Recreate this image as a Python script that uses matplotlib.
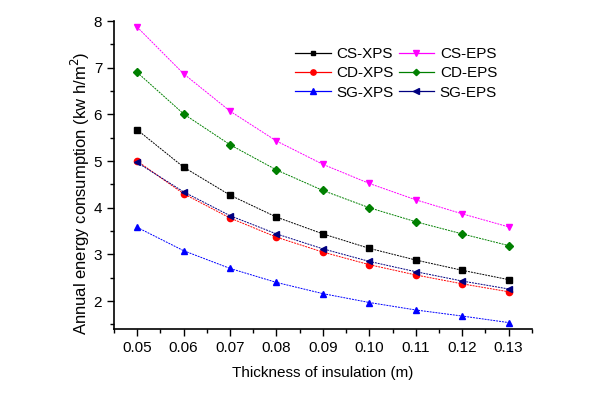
import numpy as np
import matplotlib.pyplot as plt
from matplotlib.ticker import MultipleLocator
from matplotlib.lines import Line2D

plt.rcParams['font.family'] = ['Liberation Sans', 'DejaVu Sans']

thickness = [0.05, 0.06, 0.07, 0.08, 0.09, 0.10, 0.11, 0.12, 0.13]
tick_labels = ['0.05', '0.06', '0.07', '0.08', '0.09', '0.10', '0.11', '0.12', '0.13']

cs_xps = [5.67, 4.87, 4.27, 3.80, 3.44, 3.13, 2.88, 2.66, 2.46]
cs_eps = [7.87, 6.87, 6.07, 5.43, 4.93, 4.52, 4.17, 3.87, 3.59]
cd_xps = [5.00, 4.30, 3.78, 3.37, 3.05, 2.78, 2.56, 2.37, 2.20]
cd_eps = [6.90, 6.01, 5.35, 4.81, 4.37, 4.00, 3.70, 3.44, 3.19]
sg_xps = [3.58, 3.08, 2.70, 2.40, 2.16, 1.97, 1.81, 1.68, 1.54]
sg_eps = [4.97, 4.34, 3.83, 3.44, 3.12, 2.85, 2.63, 2.43, 2.26]

fig = plt.figure(figsize=(6.03, 3.97), dpi=100)
ax = fig.add_axes([0.189, 0.171, 0.693, 0.776])

# order: XPS column first, then EPS column (legend fills column-wise)
series = [
    ('CS-XPS', cs_xps, 'black', 's', 4),
    ('CD-XPS', cd_xps, 'red', 'o', 4.5),
    ('SG-XPS', sg_xps, 'blue', '^', 5),
    ('CS-EPS', cs_eps, '#ff00ff', 'v', 5),
    ('CD-EPS', cd_eps, 'green', 'D', 3.8),
    ('SG-EPS', sg_eps, 'navy', '<', 5),
]
handles = []
for name, vals, col, mk, ms in series:
    ax.plot(thickness, vals, color=col, marker=mk, markersize=ms,
            linestyle=(0, (2, 1)), linewidth=0.7)
    handles.append(Line2D([], [], color=col, marker=mk, markersize=ms * 0.85,
                          linestyle='-', linewidth=0.9, label=name))

ax.set_xlim(0.045, 0.135)
ax.set_ylim(1.4, 8)
ax.set_xticks(thickness)
ax.set_xticklabels(tick_labels)
ax.xaxis.set_minor_locator(MultipleLocator(0.005))
ax.yaxis.set_major_locator(MultipleLocator(1))
ax.yaxis.set_minor_locator(MultipleLocator(0.5))
ax.tick_params(which='major', direction='out', length=5, width=1, labelsize=11)
ax.tick_params(which='minor', direction='out', length=3, width=1)
for s in ['top', 'right']:
    ax.spines[s].set_visible(False)
for s in ['left', 'bottom']:
    ax.spines[s].set_linewidth(1.2)

ax.set_xlabel('Thickness of insulation (m)', fontsize=11, va='center')
ax.set_ylabel('Annual energy consumption (kw h/m$^2$)', fontsize=12, va='center')
ax.xaxis.set_label_coords(0.499, -0.143)
ax.yaxis.set_label_coords(-0.081, 0.44)

ax.legend(handles=handles, ncol=2, loc='upper right', bbox_to_anchor=(0.95, 0.96),
          frameon=False, fontsize=11, handlelength=2.3, columnspacing=0.3,
          labelspacing=0.35, handletextpad=0.4)

fig.savefig('out.png', dpi=100)
